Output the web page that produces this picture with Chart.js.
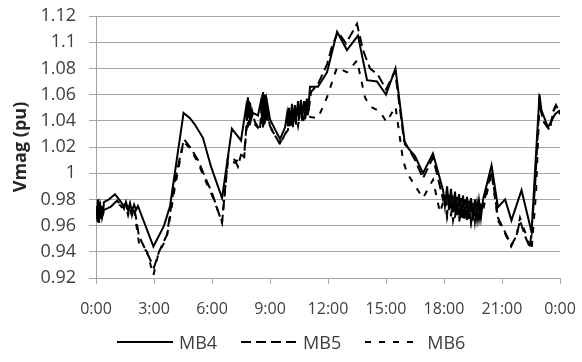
<!DOCTYPE html>
<html>
<head>
<meta charset="utf-8">
<script src="https://cdn.jsdelivr.net/npm/chart.js@4.4.0/dist/chart.umd.min.js"></script>
<style>
    html, body { margin: 0; padding: 0; background: #fff; }
    #wrap { position: relative; width: 582px; height: 362px; }
    #legend {
        position: absolute; left: 117px; top: 330px;
        display: flex; align-items: center;
        font-family: 'Open Sans', sans-serif; font-size: 18px; color: #404040;
    }
    .legend-item { display: flex; align-items: center; margin-right: 24px; }
    .legend-item svg { margin-right: 6px; }
</style>
</head>
<body>
<div id="wrap">
    <canvas id="vmagChart" width="582" height="362"></canvas>
    <div id="legend"></div>
</div>
<script>
// Series names and tick labels
const seriesNames = ['MB4', 'MB5', 'MB6'];
const xTickLabels = ['0:00', '3:00', '6:00', '9:00', '12:00', '15:00', '18:00', '21:00', '0:00'];
const yTickLabels = ['0.92', '0.94', '0.96', '0.98', '1', '1.02', '1.04', '1.06', '1.08', '1.1', '1.12'];

// Time of day in hours, voltage in pu
const mb4Hours = [0.00, 0.05, 0.10, 0.16, 0.21, 0.26, 0.31, 0.36, 0.41, 0.67, 0.98, 1.24, 1.34, 1.45, 1.55, 1.66, 1.76, 1.86, 1.97, 2.07, 2.17,
    2.97, 3.52, 3.83, 4.53, 4.86, 5.12, 5.53, 5.95, 6.52, 7.03, 7.50, 7.76, 7.81, 7.86, 7.91, 7.97, 8.02, 8.12, 8.38, 8.53, 8.59, 8.64,
    8.69, 8.74, 8.79, 8.84, 9.00, 9.52, 9.78, 9.88, 9.93, 9.98, 10.03, 10.14, 10.19, 10.29, 10.34, 10.45, 10.50, 10.60, 10.66, 10.76,
    10.81, 10.91, 10.97, 11.07, 11.48, 11.95, 12.47, 12.98, 13.55, 14.02, 14.53, 15.00, 15.49, 15.98, 16.50, 16.91, 17.43, 17.95,
    18.05, 18.16, 18.26, 18.36, 18.47, 18.57, 18.67, 18.78, 18.88, 18.98, 19.09, 19.19, 19.29, 19.40, 19.50, 19.60, 19.71, 19.81,
    19.91, 20.02, 20.46, 20.79, 21.16, 21.49, 22.01, 22.53, 22.78, 22.94, 23.04, 23.38, 23.74, 24.00];
const mb4Values = [0.975, 0.965, 0.980, 0.962, 0.978, 0.966, 0.975, 0.968, 0.978, 0.980, 0.984, 0.979, 0.977, 0.973, 0.978, 0.972, 0.977, 0.971, 0.976, 0.972, 0.975,
    0.944, 0.960, 0.975, 1.046, 1.042, 1.037, 1.027, 1.005, 0.981, 1.034, 1.025, 1.050, 1.040, 1.058, 1.042, 1.054, 1.041, 1.046, 1.044, 1.055, 1.040, 1.062,
    1.042, 1.060, 1.040, 1.055, 1.041, 1.026, 1.035, 1.045, 1.036, 1.050, 1.038, 1.053, 1.039, 1.052, 1.040, 1.055, 1.042, 1.056, 1.043, 1.055,
    1.044, 1.057, 1.046, 1.066, 1.066, 1.077, 1.108, 1.094, 1.105, 1.071, 1.070, 1.060, 1.080, 1.022, 1.013, 1.000, 1.015, 0.987,
    0.975, 0.990, 0.972, 0.988, 0.970, 0.986, 0.968, 0.984, 0.966, 0.983, 0.966, 0.982, 0.965, 0.981, 0.964, 0.980, 0.965, 0.979,
    0.966, 0.980, 1.006, 0.974, 0.980, 0.964, 0.987, 0.955, 1.020, 1.060, 1.048, 1.035, 1.045, 1.048];

const mb5Hours = [0.00, 0.10, 0.21, 0.31, 0.41, 0.72, 1.09, 1.34, 1.55, 1.66, 1.76, 1.86, 1.97, 2.07, 2.22, 2.61, 2.84, 3.00, 3.26, 3.67,
    4.09, 4.55, 4.86, 5.28, 5.64, 6.00, 6.52, 6.83, 7.19, 7.34, 7.50, 7.66, 7.76, 7.81, 7.86, 7.91, 7.97, 8.07, 8.22, 8.48, 8.59, 8.64,
    8.69, 8.74, 8.79, 9.00, 9.52, 9.78, 9.93, 9.98, 10.03, 10.14, 10.19, 10.29, 10.34, 10.45, 10.50, 10.60, 10.66, 10.76, 10.81, 10.91,
    10.97, 11.12, 11.48, 11.95, 12.21, 12.52, 12.93, 13.50, 13.81, 14.17, 14.59, 15.00, 15.47, 15.93, 16.50, 16.91, 17.43, 17.95,
    18.05, 18.16, 18.26, 18.36, 18.47, 18.57, 18.67, 18.78, 18.88, 18.98, 19.09, 19.19, 19.29, 19.40, 19.50, 19.60, 19.71, 19.81,
    19.91, 20.02, 20.46, 20.79, 21.16, 21.47, 21.75, 21.93, 22.19, 22.45, 22.71, 22.94, 23.12, 23.46, 23.64, 23.79, 24.00];
const mb5Values = [0.970, 0.962, 0.975, 0.965, 0.972, 0.974, 0.979, 0.975, 0.977, 0.969, 0.976, 0.968, 0.974, 0.966, 0.952, 0.940, 0.933, 0.928, 0.940, 0.953,
    0.995, 1.026, 1.020, 1.010, 0.997, 0.985, 0.962, 1.013, 1.010, 1.005, 1.014, 1.013, 1.032, 1.045, 1.035, 1.055, 1.038, 1.048, 1.039, 1.033, 1.055, 1.035,
    1.060, 1.038, 1.052, 1.036, 1.022, 1.030, 1.034, 1.048, 1.036, 1.050, 1.035, 1.051, 1.037, 1.052, 1.039, 1.054, 1.040, 1.053, 1.041, 1.055,
    1.044, 1.062, 1.068, 1.083, 1.097, 1.108, 1.099, 1.114, 1.094, 1.080, 1.075, 1.064, 1.078, 1.025, 1.010, 0.996, 1.012, 0.980,
    0.985, 0.968, 0.984, 0.967, 0.983, 0.966, 0.982, 0.965, 0.981, 0.964, 0.980, 0.963, 0.979, 0.964, 0.978, 0.963, 0.977, 0.965,
    0.976, 0.975, 1.002, 0.966, 0.955, 0.945, 0.952, 0.964, 0.952, 0.943, 0.990, 1.055, 1.040, 1.033, 1.046, 1.052, 1.046];

const mb6Hours = [0.00, 0.10, 0.21, 0.31, 0.41, 0.72, 1.09, 1.34, 1.55, 1.66, 1.76, 1.86, 1.97, 2.07, 2.22, 2.64, 2.97, 3.23, 3.65,
    4.09, 4.53, 4.86, 5.28, 5.64, 6.00, 6.52, 6.83, 7.19, 7.45, 7.66, 7.76, 7.86, 7.97, 8.12, 8.48, 8.64, 8.69, 8.79, 9.00, 9.52, 9.78,
    9.93, 10.03, 10.14, 10.29, 10.45, 10.60, 10.76, 10.91, 11.07, 11.48, 11.95, 12.47, 12.98, 13.50, 13.91, 14.17, 14.69, 15.03, 15.49,
    15.88, 16.09, 16.91, 17.43, 17.79, 18.05, 18.16, 18.36, 18.47, 18.67, 18.78, 18.98, 19.09, 19.29, 19.40, 19.60, 19.71, 19.91,
    20.02, 20.46, 20.79, 21.16, 21.47, 21.75, 21.93, 22.27, 22.53, 22.76, 22.94, 23.12, 23.46, 23.64, 23.79, 24.00];
const mb6Values = [0.972, 0.963, 0.976, 0.966, 0.973, 0.974, 0.978, 0.974, 0.975, 0.968, 0.974, 0.967, 0.972, 0.962, 0.947, 0.940, 0.922, 0.939, 0.950,
    0.990, 1.024, 1.019, 1.008, 0.995, 0.983, 0.963, 1.010, 1.008, 1.012, 1.011, 1.030, 1.042, 1.036, 1.039, 1.033, 1.050, 1.036, 1.048, 1.035, 1.023, 1.030,
    1.033, 1.046, 1.034, 1.048, 1.036, 1.050, 1.038, 1.048, 1.043, 1.042, 1.058, 1.081, 1.077, 1.086, 1.058, 1.051, 1.047, 1.039, 1.051,
    1.010, 1.000, 0.981, 0.995, 0.970, 0.982, 0.966, 0.980, 0.964, 0.978, 0.963, 0.977, 0.963, 0.976, 0.962, 0.975, 0.963, 0.974,
    0.972, 1.000, 0.964, 0.954, 0.944, 0.952, 0.966, 0.952, 0.941, 0.985, 1.055, 1.040, 1.033, 1.047, 1.052, 1.045];

function toPoints(hours, values) {
    return hours.map((h, i) => ({ x: h, y: values[i] }));
}

const gridColor = '#a6a6a6';
const textColor = '#404040';

const ctx = document.getElementById('vmagChart').getContext('2d');

const chart = new Chart(ctx, {
    type: 'line',
    data: {
        datasets: [{
            label: seriesNames[0],
            data: toPoints(mb4Hours, mb4Values),
            borderColor: '#000',
            backgroundColor: '#000',
            borderWidth: 2,
            borderDash: []
        },
        {
            label: seriesNames[1],
            data: toPoints(mb5Hours, mb5Values),
            borderColor: '#000',
            backgroundColor: '#000',
            borderWidth: 2,
            borderDash: [10, 5]
        },
        {
            label: seriesNames[2],
            data: toPoints(mb6Hours, mb6Values),
            borderColor: '#000',
            backgroundColor: '#000',
            borderWidth: 2,
            borderDash: [6, 8]
        }
        ]
    },
    options: {
        responsive: false,
        animation: false,
        devicePixelRatio: 1,
        layout: {
            padding: { left: 0, right: 22, top: 16, bottom: 40 }
        },
        elements: {
            point: { radius: 0, hoverRadius: 0 },
            line: { tension: 0 }
        },
        plugins: {
            tooltip: { enabled: false },
            legend: { display: false }
        },
        scales: {
            x: {
                type: 'linear',
                min: 0,
                max: 24,
                afterFit: function (scale) {
                    scale.height = 44;
                    scale.paddingLeft = 0;
                    scale.paddingRight = 0;
                },
                ticks: {
                    stepSize: 3,
                    autoSkip: false,
                    maxRotation: 0,
                    padding: 16,
                    color: textColor,
                    font: { family: 'Open Sans', size: 16 },
                    callback: function (value, index) { return xTickLabels[index]; }
                },
                grid: {
                    drawOnChartArea: false,
                    drawTicks: true,
                    tickLength: 6,
                    color: gridColor
                },
                border: { color: gridColor }
            },
            y: {
                min: 0.92,
                max: 1.12,
                afterFit: function (scale) {
                    scale.width = 96;
                    scale.paddingTop = 0;
                    scale.paddingBottom = 0;
                },
                ticks: {
                    stepSize: 0.02,
                    autoSkip: false,
                    padding: 13,
                    color: textColor,
                    font: { family: 'Open Sans', size: 18 },
                    callback: function (value, index) { return yTickLabels[index]; }
                },
                grid: {
                    drawTicks: true,
                    tickLength: 7,
                    color: gridColor
                },
                border: { color: gridColor },
                title: {
                    display: true,
                    text: 'Vmag (pu)',
                    color: '#262626',
                    padding: { top: 10, bottom: 0 },
                    font: { family: 'Open Sans', size: 18, weight: 'bold' }
                }
            }
        }
    }
});

// HTML legend built from the datasets, so dash patterns match the lines
function renderLegend(chart) {
    const box = document.getElementById('legend');
    box.innerHTML = '';
    chart.data.datasets.forEach(ds => {
        const item = document.createElement('div');
        item.className = 'legend-item';

        const svgNS = 'http://www.w3.org/2000/svg';
        const svg = document.createElementNS(svgNS, 'svg');
        svg.setAttribute('width', '56');
        svg.setAttribute('height', '4');
        const line = document.createElementNS(svgNS, 'line');
        line.setAttribute('x1', '0');
        line.setAttribute('y1', '2');
        line.setAttribute('x2', '56');
        line.setAttribute('y2', '2');
        line.setAttribute('stroke', ds.borderColor);
        line.setAttribute('stroke-width', ds.borderWidth);
        if (ds.borderDash.length) {
            line.setAttribute('stroke-dasharray', ds.borderDash.join(' '));
        }
        svg.appendChild(line);

        const label = document.createElement('span');
        label.textContent = ds.label;

        item.appendChild(svg);
        item.appendChild(label);
        box.appendChild(item);
    });
}

renderLegend(chart);
</script>
</body>
</html>
